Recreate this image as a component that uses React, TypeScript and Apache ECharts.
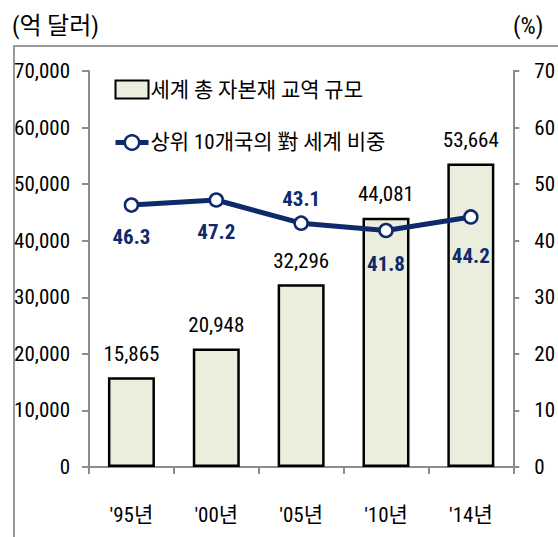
import React, { useEffect, useRef } from "react";
import * as echarts from "echarts";

const categories = ["'95년", "'00년", "'05년", "'10년", "'14년"];
const tradeVolume = [15865, 20948, 32296, 44081, 53664];
const top10Share = [46.3, 47.2, 43.1, 41.8, 44.2];
const leftTicks = [0, 10000, 20000, 30000, 40000, 50000, 60000, 70000];
const rightTicks = [0, 10, 20, 30, 40, 50, 60, 70];
const barName = "세계 총 자본재 교역 규모";
const lineName = "상위 10개국의 對 세계 비중";
const leftUnit = "(억 달러)";
const rightUnit = "(%)";

const FONT = "'Roboto Condensed', 'Noto Sans CJK KR', sans-serif";
const NAVY = "#0f2a6b";
const AXIS = "#8c8c8c";

export default function App() {
  const ref = useRef<HTMLDivElement>(null);
  useEffect(() => {
    if (!ref.current) return;
    const chart = echarts.init(ref.current, null, { renderer: "svg" });
    const labelCfg = [
      { position: "bottom", distance: 14 },
      { position: "bottom", distance: 14 },
      { position: "top", distance: 6 },
      { position: "bottom", distance: 15 },
      { position: "bottom", distance: 21 },
    ];
    chart.setOption({
      animation: false,
      textStyle: { fontFamily: FONT },
      graphic: [
        {
          type: "rect",
          shape: { x: 14, y: 46, width: 700, height: 700 },
          style: { fill: "none", stroke: "#999", lineWidth: 2 },
          silent: true,
        },
        {
          type: "text",
          x: 12,
          y: 26,
          style: { text: leftUnit, font: `24px ${FONT}`, fill: "#000", textVerticalAlign: "middle" },
        },
        {
          type: "text",
          x: 513,
          y: 26,
          style: { text: rightUnit, font: `24px ${FONT}`, fill: "#000", textVerticalAlign: "middle" },
        },
      ],
      legend: {
        orient: "vertical",
        left: 108,
        top: 74,
        itemGap: 32,
        itemWidth: 33,
        itemHeight: 18,
        textStyle: { fontSize: 21, color: "#000", fontFamily: FONT, padding: [0, 0, 0, -3] },
        data: [
          { name: barName, icon: "rect" },
          { name: lineName, lineStyle: { width: 5, color: NAVY }, itemStyle: { borderWidth: 2.5, borderColor: NAVY, color: "#fff" } },
        ],
      },
      grid: { left: 89, right: 38, top: 71, bottom: 70 },
      xAxis: {
        type: "category",
        data: categories,
        axisLine: { lineStyle: { color: AXIS, width: 2 } },
        axisTick: { show: true, length: 7, lineStyle: { color: AXIS, width: 2 } },
        axisLabel: { fontSize: 21, color: "#000", margin: 37, fontFamily: FONT },
      },
      yAxis: [
        {
          type: "value",
          min: 0,
          max: 70000,
          interval: 10000,
          splitLine: { show: false },
          axisLine: { show: true, lineStyle: { color: AXIS, width: 2 } },
          axisTick: { show: true, length: 7, lineStyle: { color: AXIS, width: 2 } },
          axisLabel: {
            fontSize: 21,
            color: "#000",
            margin: 19,
            fontFamily: FONT,
            formatter: (v: number) => (leftTicks.includes(v) ? v.toLocaleString("en-US") : ""),
          },
        },
        {
          type: "value",
          min: 0,
          max: 70,
          interval: 10,
          position: "right",
          splitLine: { show: false },
          axisLine: { show: true, lineStyle: { color: AXIS, width: 2 } },
          axisTick: { show: true, length: 6, lineStyle: { color: AXIS, width: 2 } },
          axisLabel: {
            fontSize: 21,
            color: "#000",
            margin: 21,
            fontFamily: FONT,
            formatter: (v: number) => (rightTicks.includes(v) ? String(v) : ""),
          },
        },
      ],
      series: [
        {
          name: barName,
          type: "bar",
          data: tradeVolume,
          barWidth: 47,
          itemStyle: { color: "#ebeedd", borderColor: "#000", borderWidth: 2.5 },
          label: {
            show: true,
            position: "top",
            distance: 13,
            fontSize: 21,
            color: "#000",
            fontFamily: FONT,
            formatter: (p: any) => Number(p.value).toLocaleString("en-US"),
          },
          z: 2,
        },
        {
          name: lineName,
          type: "line",
          yAxisIndex: 1,
          data: top10Share.map((v, i) => ({
            value: v,
            label: { position: labelCfg[i].position, distance: labelCfg[i].distance },
          })),
          symbol: "circle",
          symbolSize: 13,
          lineStyle: { color: NAVY, width: 5 },
          itemStyle: { color: "#fff", borderColor: NAVY, borderWidth: 2.5 },
          label: {
            show: true,
            fontSize: 21,
            fontWeight: "bold",
            color: NAVY,
            fontFamily: FONT,
            formatter: (p: any) => Number(p.value).toFixed(1),
          },
          z: 5,
        },
      ],
    });
    return () => chart.dispose();
  }, []);
  return <div ref={ref} style={{ width: 558, height: 537, position: "absolute", left: 0, top: 0 }} />;
}
